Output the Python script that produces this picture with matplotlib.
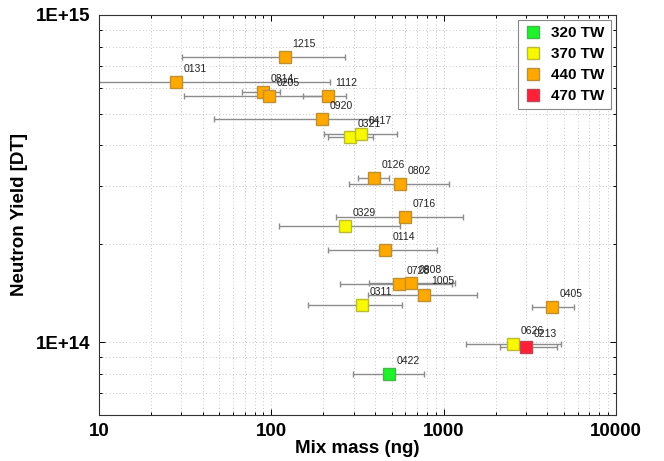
import numpy as np
import matplotlib.pyplot as plt
from matplotlib.lines import Line2D
from matplotlib.ticker import FixedLocator, FuncFormatter, NullFormatter, LogLocator

plt.rcParams['font.family'] = ['Liberation Sans', 'DejaVu Sans']

# shot data
shots = ['1215', '0131', '0814', '0205', '1112', '0920', '0321', '0417', '0126', '0802', '0716',
         '0329', '0114', '0728', '0808', '1005', '0311', '0405', '0626', '0213', '0422']
mass = np.array([120, 28.1, 89.9, 97.3, 212, 196, 285, 331, 394, 558, 595,
                 268, 457, 551, 647, 769, 335, 4240, 2539, 3009, 482])
mass_lo = np.array([30.2, 5, 68, 31.1, 153, 46.5, 213, 201, 320, 283, 238,
                    111, 214, 250, 369, 366, 163, 3258, 1343, 2116, 298])
mass_hi = np.array([267, 219, 113, 219, 270, 374, 389, 534, 482, 1071, 1296,
                    558, 912, 1114, 1164, 1555, 576, 5741, 4786, 4571, 770])
yld = np.array([7.44e14, 6.24e14, 5.82e14, 5.66e14, 5.66e14, 4.80e14, 4.23e14, 4.33e14, 3.18e14,
                3.04e14, 2.41e14, 2.27e14, 1.91e14, 1.505e14, 1.52e14, 1.40e14, 1.30e14, 1.28e14,
                9.86e13, 9.65e13, 8.02e13])
power = np.array([440, 440, 440, 440, 440, 440, 370, 370, 440, 440, 440,
                  370, 440, 440, 440, 440, 370, 440, 370, 470, 320])

powers = [320, 370, 440, 470]
colors = {320: '#1ef22a', 370: '#f8f800', 440: '#ffa800', 470: '#ff2038'}


def edge(c):
    rgb = np.array([int(c[i:i + 2], 16) for i in (1, 3, 5)]) / 255.0
    return tuple(rgb * 0.55 + 0.2)


fig = plt.figure(figsize=(6.64, 4.61), dpi=100)
ax = fig.add_axes([0.1491, 0.0998, 0.7786, 0.8677])
ax.set_xscale('log')
ax.set_yscale('log')

for i in range(len(shots)):
    ax.errorbar(mass[i], yld[i],
                xerr=[[mass[i] - mass_lo[i]], [mass_hi[i] - mass[i]]],
                fmt='none', ecolor='#8c8c8c', elinewidth=1, capsize=2.5, capthick=1, zorder=2)
for i in range(len(shots)):
    c = colors[power[i]]
    ax.plot(mass[i], yld[i], 's', ms=8.6, mfc=c, mec=edge(c), mew=1, zorder=3)
    ax.annotate(shots[i], (mass[i], yld[i]), xytext=(5.5, 9.5), textcoords='offset points',
                ha='left', va='center', fontsize=7.5, color='#222222', zorder=4)

ax.set_xlim(10, 10000)
ax.set_ylim(6e13, 1e15)

ax.xaxis.set_major_locator(FixedLocator([10, 100, 1000, 10000]))
ax.xaxis.set_major_formatter(FuncFormatter(lambda v, p: '%d' % round(v)))
ax.xaxis.set_minor_locator(LogLocator(base=10, subs=np.arange(2, 10)))
ax.xaxis.set_minor_formatter(NullFormatter())
ax.yaxis.set_major_locator(FixedLocator([1e14, 1e15]))
ax.yaxis.set_major_formatter(FuncFormatter(lambda v, p: '1E+%d' % round(np.log10(v))))
ax.yaxis.set_minor_locator(LogLocator(base=10, subs=np.arange(2, 10)))
ax.yaxis.set_minor_formatter(NullFormatter())

ax.grid(True, which='both', linestyle=(0, (1, 3)), color='#b4b4b4', linewidth=0.6)
ax.tick_params(which='both', direction='in', top=True, right=True, width=0.7)
ax.tick_params(which='major', length=4, labelsize=13.5, pad=6)
ax.tick_params(which='minor', length=2)
for lab in ax.get_xticklabels() + ax.get_yticklabels():
    lab.set_fontweight('bold')
for s in ax.spines.values():
    s.set_linewidth(0.8)
    s.set_color('#333333')

ax.set_xlabel('Mix mass (ng)', fontsize=13.5, fontweight='bold', labelpad=0)
ax.set_ylabel('Neutron Yield [DT]', fontsize=13.5, fontweight='bold', labelpad=6)

handles = [Line2D([], [], marker='s', ls='none', ms=8.6, mfc=colors[p], mec=edge(colors[p]), mew=1)
           for p in powers]
leg = ax.legend(handles, ['%d TW' % p for p in powers], loc='upper right',
                prop={'size': 11, 'weight': 'bold'}, fancybox=False, framealpha=1,
                edgecolor='#888888', borderaxespad=0.35, handletextpad=0.6,
                labelspacing=0.45, handlelength=1.2)
leg.get_frame().set_linewidth(0.8)

fig.savefig('out.png', dpi=100)
